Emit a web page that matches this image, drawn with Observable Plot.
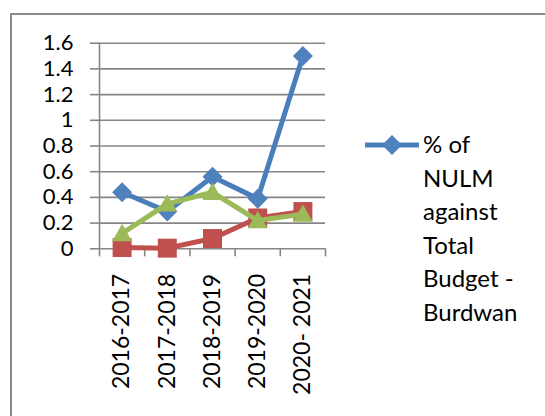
<!DOCTYPE html>
<html>
<head>
<meta charset="utf-8">
<script src="https://cdn.jsdelivr.net/npm/d3@7"></script>
<script src="https://cdn.jsdelivr.net/npm/@observablehq/plot@0.6"></script>
<style>
  html, body { margin: 0; padding: 0; background: #fff; overflow: hidden; width: 545px; height: 416px; }
  #frame { position: absolute; left: 10px; top: 13px; width: 600px; height: 500px; border: 2px solid #8a8a8a; box-sizing: border-box; }
  #chart { position: absolute; left: 0; top: 0; }
  #legend { position: absolute; left: 365px; top: 127px; font-family: Lato, sans-serif; font-size: 24px; line-height: 33.6px; color: #000; display: flex; align-items: flex-start; }
  #legend svg { flex: none; margin-top: 6px; }
  #legend .txt { margin-left: 4px; }
</style>
</head>
<body>
<div id="frame"></div>
<div id="chart"></div>
<div id="legend"></div>
<script>
const categories = ["2016-2017", "2017-2018", "2018-2019", "2019-2020", "2020- 2021"];
const blueSeries  = [0.44, 0.29, 0.56, 0.39, 1.50];   // % of NULM against Total Budget - Burdwan
const redSeries   = [0.01, 0.005, 0.08, 0.24, 0.29];
const greenSeries = [0.12, 0.35, 0.44, 0.22, 0.27];
const yTicks = [0, 0.2, 0.4, 0.6, 0.8, 1, 1.2, 1.4, 1.6];
const legendLines = ["% of", "NULM", "against", "Total", "Budget -", "Burdwan"];

const BLUE = "#4A7EBB", RED = "#C0504D", GREEN = "#9BBB59", GRID = "#868686";

const data = categories.map((c, i) => ({i, c, blue: blueSeries[i], red: redSeries[i], green: greenSeries[i]}));
const boundaries = d3.range(-0.5, categories.length + 0.5, 1);

const chart = Plot.plot({
  width: 545,
  height: 416,
  marginLeft: 99,
  marginRight: 220,
  marginTop: 42.7,
  marginBottom: 167.7,
  style: {fontFamily: "Lato, sans-serif", background: "transparent", overflow: "visible"},
  x: {type: "linear", domain: [-0.5, categories.length - 0.5]},
  y: {domain: [0, 1.6]},
  marks: [
    Plot.gridY(yTicks, {stroke: GRID, strokeOpacity: 1, strokeWidth: 1.6}),
    Plot.ruleX([-0.5], {stroke: GRID, strokeWidth: 1.6}),
    Plot.axisY({ticks: yTicks, tickSize: 9, tickPadding: 17, tickFormat: d3.format("~g"), fontSize: 22, stroke: GRID, strokeWidth: 1.6, fill: "black", label: null}),
    Plot.axisX({ticks: boundaries, tickSize: 8, tickFormat: () => "", stroke: GRID, strokeWidth: 1.6, label: null}),
    Plot.axisX({ticks: d3.range(categories.length), tickSize: 0, tickPadding: 25, tickRotate: -90, tickFormat: i => categories[i], fontSize: 23, fill: "black", label: null}),
    Plot.line(data, {x: "i", y: "blue", stroke: BLUE, strokeWidth: 5}),
    Plot.dot(data, {x: "i", y: "blue", symbol: "diamond2", r: 9, fill: "#4F81BD", stroke: null}),
    Plot.line(data, {x: "i", y: "red", stroke: RED, strokeWidth: 5}),
    Plot.dot(data, {x: "i", y: "red", symbol: "square", r: 10.7, fill: RED, stroke: null}),
    Plot.line(data, {x: "i", y: "green", stroke: GREEN, strokeWidth: 5}),
    Plot.dot(data, {x: "i", y: "green", symbol: "triangle", r: 7.4, fill: GREEN, stroke: null, dy: 2})
  ]
});
document.getElementById("chart").appendChild(chart);

const legend = document.getElementById("legend");
legend.innerHTML =
  `<svg width="54" height="24" viewBox="0 0 54 24">
     <line x1="1" y1="12" x2="53" y2="12" stroke="${BLUE}" stroke-width="5" stroke-linecap="round"/>
     <path d="M27 2 L37 12 L27 22 L17 12 Z" fill="#4F81BD"/>
   </svg>
   <div class="txt">${legendLines.join("<br>")}</div>`;
</script>
</body>
</html>
